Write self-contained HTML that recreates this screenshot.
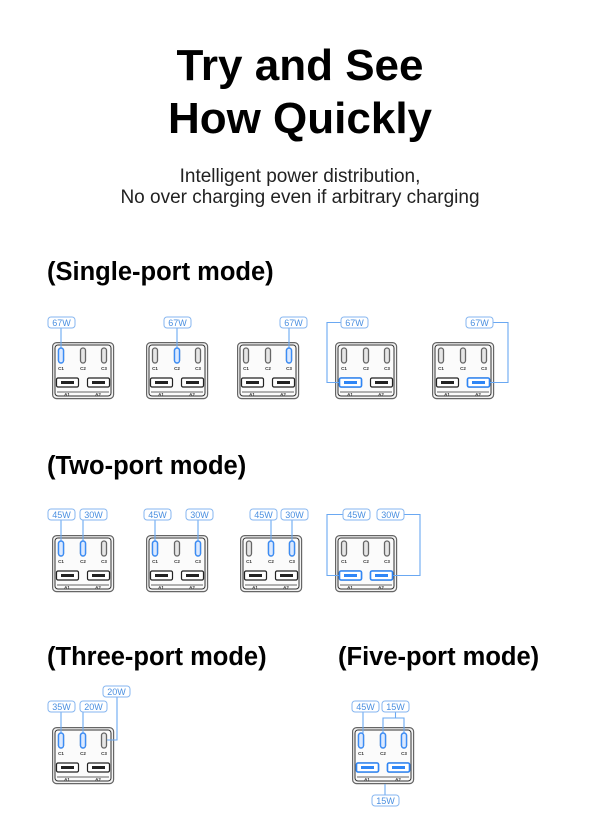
<!DOCTYPE html>
<html><head><meta charset="utf-8"><style>
html,body{margin:0;padding:0;background:#fff}
body{width:600px;height:831px;overflow:hidden}
</style></head><body>
<svg width="600" height="831" viewBox="0 0 600 831" xmlns="http://www.w3.org/2000/svg" font-family="Liberation Sans, sans-serif">
<defs>
<symbol id="dev" overflow="visible">
<rect x="0.6" y="0.6" width="61" height="56" rx="4" fill="#f3f3f3" stroke="#666" stroke-width="1.2"/>
<rect x="3" y="3" width="56" height="51" rx="3" fill="#fbfbfb" stroke="#333" stroke-width="1"/>
<g fill="#e6e6e6" stroke="#666" stroke-width="1.3">
<rect x="6.5" y="6" width="5" height="15" rx="2.5"/><rect x="28.5" y="6" width="5" height="15" rx="2.5"/><rect x="49.5" y="6" width="5" height="15" rx="2.5"/></g>
<g font-size="4.5" fill="#333" text-anchor="middle" font-weight="bold"><text x="9" y="28">C1</text><text x="31" y="28">C2</text><text x="52" y="28">C3</text></g>
<g fill="#fff" stroke="#222" stroke-width="1.2"><rect x="4.5" y="36" width="22" height="9" rx="1.5"/><rect x="35.5" y="36" width="22" height="9" rx="1.5"/></g>
<g fill="#222"><rect x="9" y="39" width="13" height="3"/><rect x="40" y="39" width="13" height="3"/></g>
<line x1="5" y1="50" x2="57" y2="50" stroke="#333" stroke-width="0.8"/>
<g font-size="4.5" fill="#333" text-anchor="middle" font-weight="bold"><text x="15" y="54">A1</text><text x="46" y="54">A2</text></g>
</symbol>
<symbol id="bc" overflow="visible"><rect x="0" y="0" width="5" height="15" rx="2.5" fill="#dbe9ff" stroke="#3b8cf5" stroke-width="1.4"/></symbol>
<symbol id="ba" overflow="visible"><rect x="0" y="0" width="22" height="9" rx="1.5" fill="#fff" stroke="#2f86f6" stroke-width="1.6"/><rect x="4.5" y="3" width="13" height="3" fill="#2f86f6"/></symbol>
</defs>

<g font-weight="bold" text-anchor="middle" fill="#000" font-size="44">
<text x="300" y="80">Try and See</text>
<text x="300" y="133">How Quickly</text>
</g>
<g text-anchor="middle" fill="#222" font-size="19">
<text x="300" y="182">Intelligent power distribution,</text>
<text x="300" y="203">No over charging even if arbitrary charging</text>
</g>
<g font-weight="bold" fill="#000" font-size="25.5">
<text x="47" y="280">(Single-port mode)</text>
<text x="47" y="474">(Two-port mode)</text>
<text x="47" y="665">(Three-port mode)</text>
<text x="338" y="665">(Five-port mode)</text>
</g>

<use href="#dev" x="52" y="342"/><use href="#dev" x="146" y="342"/><use href="#dev" x="237" y="342"/><use href="#dev" x="335" y="342"/><use href="#dev" x="432" y="342"/>
<use href="#dev" x="52" y="535"/><use href="#dev" x="146" y="535"/><use href="#dev" x="240" y="535"/><use href="#dev" x="335" y="535"/>
<use href="#dev" x="52" y="727"/><use href="#dev" x="352" y="727"/>

<g fill="none" stroke="#6aa8f2" stroke-width="1.1">
<line x1="61" y1="328" x2="61" y2="348"/><line x1="177" y1="328" x2="177" y2="348"/><line x1="289" y1="328" x2="289" y2="348"/>
<polyline points="341,322.5 327,322.5 327,382.5 339.5,382.5"/>
<polyline points="492,322.5 508,322.5 508,382.5 489.5,382.5"/>
<line x1="61" y1="520" x2="61" y2="541"/><line x1="83" y1="520" x2="83" y2="541"/>
<line x1="155" y1="520" x2="155" y2="541"/><line x1="198" y1="520" x2="198" y2="541"/>
<line x1="271" y1="520" x2="271" y2="541"/><line x1="292" y1="520" x2="292" y2="541"/>
<polyline points="343,514.5 327,514.5 327,575.5 339.5,575.5"/>
<polyline points="403,514.5 420,514.5 420,575.5 392.5,575.5"/>
<line x1="61" y1="712" x2="61" y2="733"/><line x1="83" y1="712" x2="83" y2="733"/>
<polyline points="117,697 117,740 107,740"/>
<line x1="363" y1="712" x2="363" y2="733"/>
<polyline points="395.5,712 395.5,718"/><polyline points="383,733 383,718 404,718 404,733"/>
<line x1="385" y1="784" x2="385" y2="795"/>
</g>

<use href="#bc" x="58.5" y="348"/><use href="#bc" x="174.5" y="348"/><use href="#bc" x="286.5" y="348"/>
<use href="#ba" x="339.5" y="378"/><use href="#ba" x="467.5" y="378"/>
<use href="#bc" x="58.5" y="541"/><use href="#bc" x="80.5" y="541"/>
<use href="#bc" x="152.5" y="541"/><use href="#bc" x="195.5" y="541"/>
<use href="#bc" x="268.5" y="541"/><use href="#bc" x="289.5" y="541"/>
<use href="#ba" x="339.5" y="571"/><use href="#ba" x="370.5" y="571"/>
<use href="#bc" x="58.5" y="733"/><use href="#bc" x="80.5" y="733"/>
<use href="#bc" x="358.5" y="733"/><use href="#bc" x="380.5" y="733"/><use href="#bc" x="401.5" y="733"/>
<use href="#ba" x="356.5" y="763"/><use href="#ba" x="387.5" y="763"/>

<g fill="#fff" stroke="#86b6f0" stroke-width="1">
<rect x="48" y="317" width="27" height="11" rx="3"/><rect x="164" y="317" width="27" height="11" rx="3"/><rect x="280" y="317" width="27" height="11" rx="3"/><rect x="341" y="317" width="27" height="11" rx="3"/><rect x="466" y="317" width="27" height="11" rx="3"/>
<rect x="48" y="509" width="27" height="11" rx="3"/><rect x="80" y="509" width="27" height="11" rx="3"/>
<rect x="144" y="509" width="27" height="11" rx="3"/><rect x="186" y="509" width="27" height="11" rx="3"/>
<rect x="250" y="509" width="27" height="11" rx="3"/><rect x="281" y="509" width="27" height="11" rx="3"/>
<rect x="343" y="509" width="27" height="11" rx="3"/><rect x="377" y="509" width="27" height="11" rx="3"/>
<rect x="48" y="701" width="27" height="11" rx="3"/><rect x="80" y="701" width="27" height="11" rx="3"/><rect x="103" y="686" width="27" height="11" rx="3"/>
<rect x="352" y="701" width="27" height="11" rx="3"/><rect x="382" y="701" width="27" height="11" rx="3"/><rect x="372" y="795" width="27" height="11" rx="3"/>
</g>
<g fill="#4a8fe0" font-size="9" text-anchor="middle">
<text x="61.5" y="326">67W</text><text x="177.5" y="326">67W</text><text x="293.5" y="326">67W</text><text x="354.5" y="326">67W</text><text x="479.5" y="326">67W</text>
<text x="61.5" y="518">45W</text><text x="93.5" y="518">30W</text>
<text x="157.5" y="518">45W</text><text x="199.5" y="518">30W</text>
<text x="263.5" y="518">45W</text><text x="294.5" y="518">30W</text>
<text x="356.5" y="518">45W</text><text x="390.5" y="518">30W</text>
<text x="61.5" y="710">35W</text><text x="93.5" y="710">20W</text><text x="116.5" y="695">20W</text>
<text x="365.5" y="710">45W</text><text x="395.5" y="710">15W</text><text x="385.5" y="804">15W</text>
</g>
</svg>
</body></html>
